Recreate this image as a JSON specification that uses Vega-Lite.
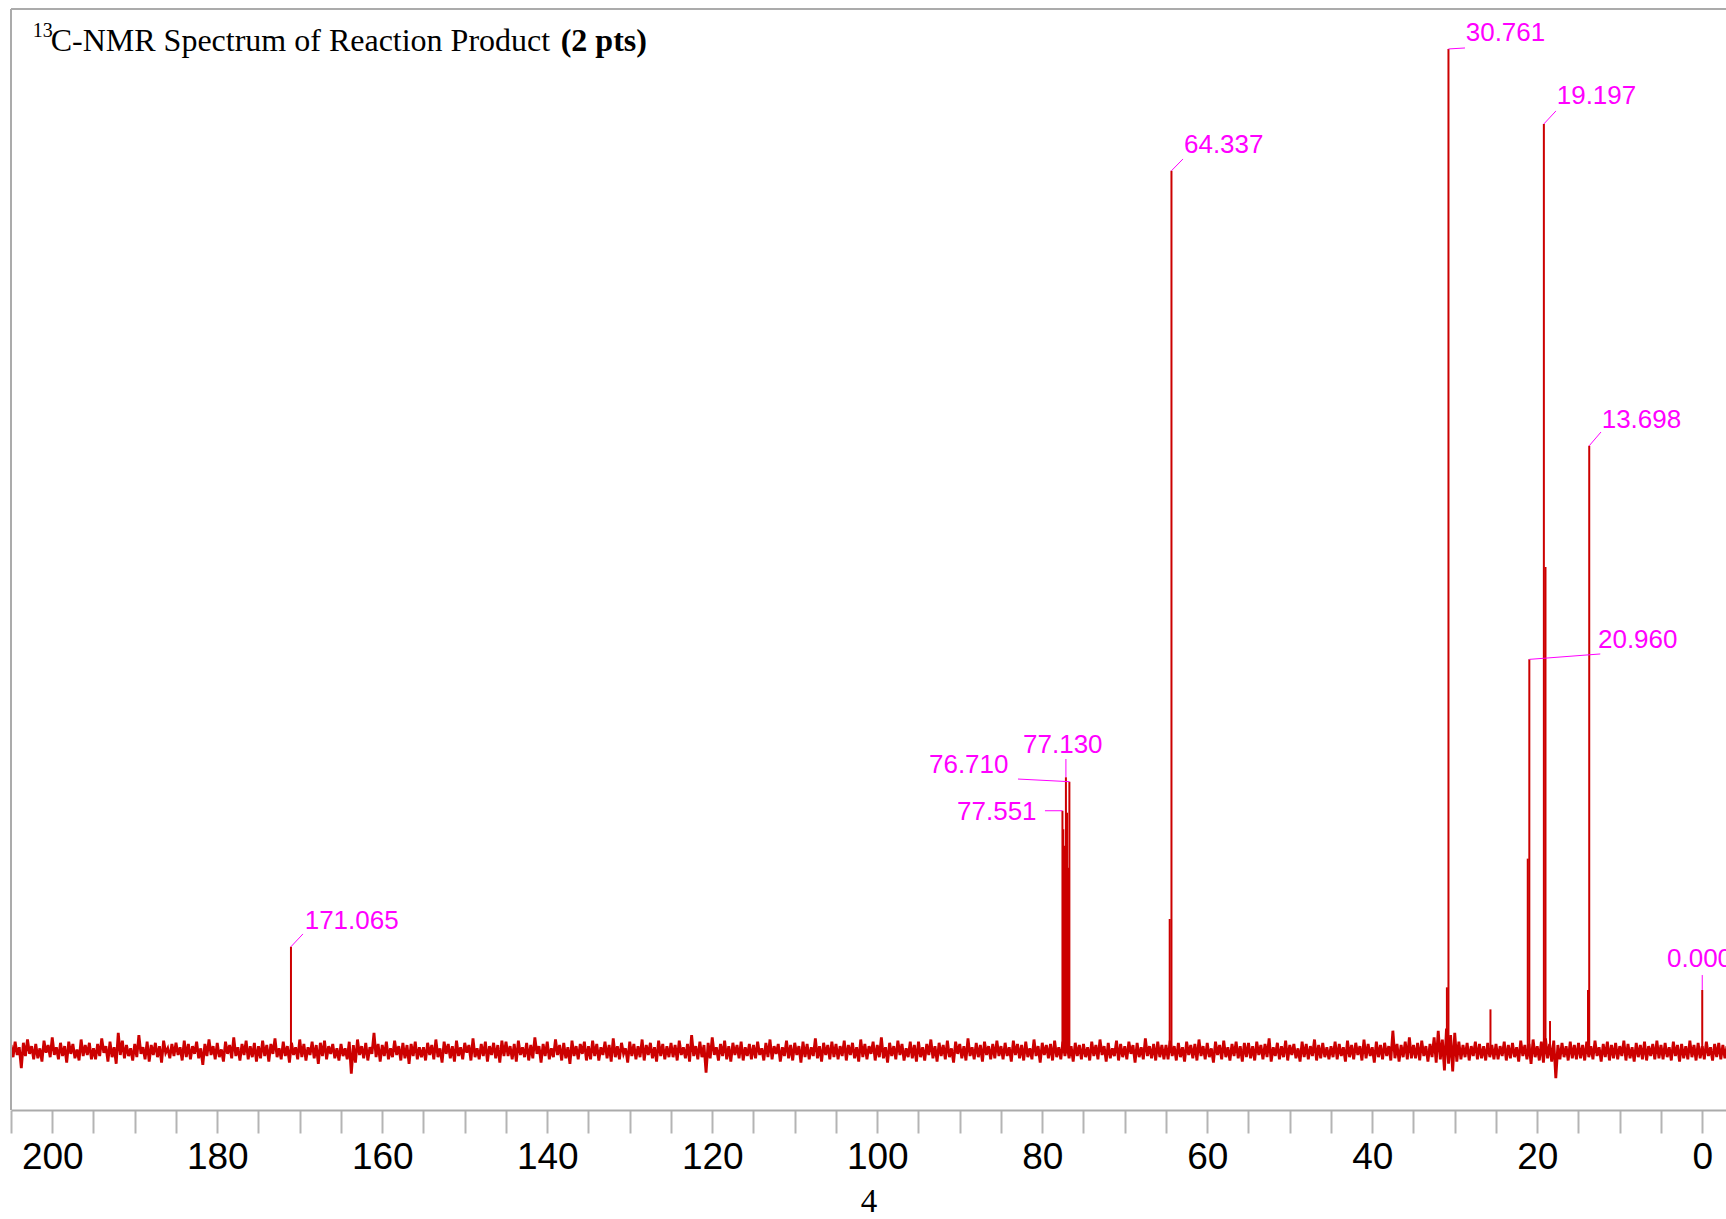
{
  "$schema": "https://vega.github.io/schema/vega-lite/v6.json",
  "width": 1715,
  "height": 1101,
  "padding": {"left": 11, "top": 9, "right": 0, "bottom": 109},
  "autosize": {"type": "none"},
  "background": "white",
  "config": {"view": {"stroke": null}},
  "datasets": {
    "noise": [
      {"x": [205,204.75,204.5,204.25,204,203.75,203.5,203.25,203,202.75,202.5,202.25,202,201.75,201.5,201.25,201,200.75,200.5,200.25,200,199.75,199.5,199.25,199,198.75,198.5,198.25,198,197.75,197.5,197.25,197,196.75,196.5,196.25,196,195.75,195.5,195.25],
       "y": [5.9,4.8,6.2,5.0,5.7,3.8,6.1,4.9,6.4,5.1,5.8,4.6,6.0,4.7,5.6,4.4,6.3,5.2,5.9,4.8,6.6,5.0,5.7,4.6,6.1,4.9,5.8,4.3,6.2,5.1,6.0,4.7,5.5,4.5,6.4,4.9,5.9,5.0,6.1,4.6]},
      {"x": [195,194.75,194.5,194.25,194,193.75,193.5,193.25,193,192.75,192.5,192.25,192,191.75,191.5,191.25,191,190.75,190.5,190.25,190,189.75,189.5,189.25,189,188.75,188.5,188.25,188,187.75,187.5,187.25,187,186.75,186.5,186.25,186,185.75,185.5,185.25],
       "y": [5.6,4.6,6.0,4.9,6.5,5.2,5.8,4.4,6.2,4.8,5.7,4.2,7.0,5.0,6.3,4.7,5.9,4.9,5.6,4.5,6.0,4.8,6.8,5.1,5.7,4.6,6.2,4.4,5.9,5.0,6.1,4.8,5.8,4.3,6.3,5.2,5.6,4.7,6.0,4.9]},
      {"x": [185,184.75,184.5,184.25,184,183.75,183.5,183.25,183,182.75,182.5,182.25,182,181.75,181.5,181.25,181,180.75,180.5,180.25,180,179.75,179.5,179.25,179,178.75,178.5,178.25,178,177.75,177.5,177.25,177,176.75,176.5,176.25,176,175.75,175.5,175.25],
       "y": [6.1,5.0,5.7,4.5,6.3,4.8,6.0,4.6,5.8,5.1,6.2,4.7,5.6,4.1,6.0,4.9,6.4,5.0,5.8,4.6,6.1,4.8,5.5,4.4,6.2,5.1,5.9,4.7,6.6,4.9,5.7,4.5,6.0,5.0,6.3,4.6,5.8,4.8,6.1,4.4]},
      {"x": [175,174.75,174.5,174.25,174,173.75,173.5,173.25,173,172.75,172.5,172.25,172,171.75,171.5,171.25,171,170.75,170.5,170.25,170,169.75,169.5,169.25,169,168.75,168.5,168.25,168,167.75,167.5,167.25,167,166.75,166.5,166.25,166,165.75,165.5,165.25],
       "y": [5.8,4.7,6.3,4.9,5.9,4.4,6.0,5.1,6.5,4.8,5.6,4.6,6.2,4.9,5.8,4.3,6.1,5.0,5.7,4.6,6.4,4.8,6.0,4.5,5.7,5.0,6.2,4.7,5.9,4.2,6.1,4.9,6.3,4.6,5.8,5.1,6.0,4.7,5.6,4.5]},
      {"x": [165,164.75,164.5,164.25,164,163.75,163.5,163.25,163,162.75,162.5,162.25,162,161.75,161.5,161.25,161,160.75,160.5,160.25,160,159.75,159.5,159.25,159,158.75,158.5,158.25,158,157.75,157.5,157.25,157,156.75,156.5,156.25,156,155.75,155.5,155.25],
       "y": [6.0,4.9,5.6,4.6,6.2,3.3,5.9,4.3,6.4,5.0,5.8,4.7,6.1,4.5,5.7,5.1,7.0,4.8,6.0,4.4,5.9,4.9,6.2,4.6,5.6,4.8,6.3,5.0,5.8,4.5,6.1,4.7,5.9,4.2,6.0,4.9,6.2,4.6,5.7,4.8]},
      {"x": [155,154.75,154.5,154.25,154,153.75,153.5,153.25,153,152.75,152.5,152.25,152,151.75,151.5,151.25,151,150.75,150.5,150.25,150,149.75,149.5,149.25,149,148.75,148.5,148.25,148,147.75,147.5,147.25,147,146.75,146.5,146.25,146,145.75,145.5,145.25],
       "y": [5.7,4.5,6.1,5.0,5.9,4.6,6.4,4.8,5.6,4.3,6.2,5.1,6.0,4.7,5.8,4.4,6.3,4.9,5.7,4.6,6.1,5.2,5.9,4.5,6.5,4.8,5.6,4.6,6.0,4.9,6.2,4.4,5.8,5.0,6.1,4.7,5.9,4.3,6.3,4.9]},
      {"x": [145,144.75,144.5,144.25,144,143.75,143.5,143.25,143,142.75,142.5,142.25,142,141.75,141.5,141.25,141,140.75,140.5,140.25,140,139.75,139.5,139.25,139,138.75,138.5,138.25,138,137.75,137.5,137.25,137,136.75,136.5,136.25,136,135.75,135.5,135.25],
       "y": [6.2,4.9,5.8,4.6,6.0,4.4,6.3,5.0,5.7,4.8,6.1,4.5,5.9,4.7,6.6,5.1,5.8,4.3,6.0,4.9,6.2,4.6,5.6,4.8,6.4,5.0,5.9,4.5,6.1,4.7,5.7,4.2,6.3,4.9,5.8,4.6,6.0,5.1,6.2,4.5]},
      {"x": [135,134.75,134.5,134.25,134,133.75,133.5,133.25,133,132.75,132.5,132.25,132,131.75,131.5,131.25,131,130.75,130.5,130.25,130,129.75,129.5,129.25,129,128.75,128.5,128.25,128,127.75,127.5,127.25,127,126.75,126.5,126.25,126,125.75,125.5,125.25],
       "y": [5.8,4.6,6.3,4.9,6.0,4.5,5.7,5.0,6.2,4.7,5.9,4.4,6.5,4.8,5.8,4.6,6.1,5.1,5.6,4.3,6.2,4.9,6.0,4.6,5.8,4.8,6.4,4.5,5.9,5.0,6.1,4.7,5.7,4.4,6.3,4.9,6.0,4.6,5.8,4.8]},
      {"x": [125,124.75,124.5,124.25,124,123.75,123.5,123.25,123,122.75,122.5,122.25,122,121.75,121.5,121.25,121,120.75,120.5,120.25,120,119.75,119.5,119.25,119,118.75,118.5,118.25,118,117.75,117.5,117.25,117,116.75,116.5,116.25,116,115.75,115.5,115.25],
       "y": [6.1,4.8,5.9,4.5,6.3,5.0,5.7,4.7,6.0,4.4,6.8,4.9,5.8,4.6,6.2,4.8,5.9,3.4,6.1,4.7,6.6,5.0,5.7,4.5,6.0,4.9,6.3,4.6,5.8,4.4,6.1,5.0,5.9,4.7,6.2,4.5,5.7,4.9,6.0,4.6]},
      {"x": [115,114.75,114.5,114.25,114,113.75,113.5,113.25,113,112.75,112.5,112.25,112,111.75,111.5,111.25,111,110.75,110.5,110.25,110,109.75,109.5,109.25,109,108.75,108.5,108.25,108,107.75,107.5,107.25,107,106.75,106.5,106.25,106,105.75,105.5,105.25],
       "y": [5.9,4.7,6.2,5.0,5.6,4.5,6.1,4.8,6.4,4.6,5.8,5.1,6.0,4.4,5.7,4.9,6.3,4.7,5.9,4.5,6.1,5.0,5.8,4.3,6.2,4.8,6.0,4.6,5.7,4.9,6.5,4.7,5.8,4.4,6.1,5.0,5.9,4.6,6.2,4.8]},
      {"x": [105,104.75,104.5,104.25,104,103.75,103.5,103.25,103,102.75,102.5,102.25,102,101.75,101.5,101.25,101,100.75,100.5,100.25,100,99.75,99.5,99.25,99,98.75,98.5,98.25,98,97.75,97.5,97.25,97,96.75,96.5,96.25,96,95.75,95.5,95.25],
       "y": [6.0,4.6,5.8,4.9,6.3,4.5,5.9,5.0,6.1,4.7,5.7,4.4,6.4,4.8,6.0,4.6,5.8,5.1,6.2,4.5,5.9,4.8,6.6,4.7,5.7,4.3,6.1,4.9,5.8,4.6,6.3,5.0,6.0,4.5,5.6,4.8,6.2,4.7,5.9,4.4]},
      {"x": [95,94.75,94.5,94.25,94,93.75,93.5,93.25,93,92.75,92.5,92.25,92,91.75,91.5,91.25,91,90.75,90.5,90.25,90,89.75,89.5,89.25,89,88.75,88.5,88.25,88,87.75,87.5,87.25,87,86.75,86.5,86.25,86,85.75,85.5,85.25],
       "y": [6.2,4.8,5.7,4.5,6.0,5.0,6.4,4.7,5.8,4.4,6.1,4.9,5.9,4.6,6.3,4.8,5.6,4.3,6.2,5.1,6.0,4.7,5.8,4.5,6.5,4.9,5.7,4.6,6.1,4.8,5.9,4.4,6.2,5.0,5.8,4.6,6.0,4.7,6.3,4.9]},
      {"x": [85,84.75,84.5,84.25,84,83.75,83.5,83.25,83,82.75,82.5,82.25,82,81.75,81.5,81.25,81,80.75,80.5,80.25,80,79.75,79.5,79.25,79,78.75,78.5,78.25,78,77.75,77.5,77.25,77,76.75,76.5,76.25,76,75.75,75.5,75.25],
       "y": [5.8,4.6,6.1,4.9,5.7,4.4,6.3,5.0,6.0,4.7,5.9,4.5,6.2,4.8,5.6,4.6,6.4,4.9,5.8,4.3,6.1,5.0,5.9,4.7,6.0,4.5,6.3,4.8,5.7,4.6,6.2,4.9,6.0,4.7,5.8,4.4,6.1,4.9,5.9,4.6]},
      {"x": [75,74.75,74.5,74.25,74,73.75,73.5,73.25,73,72.75,72.5,72.25,72,71.75,71.5,71.25,71,70.75,70.5,70.25,70,69.75,69.5,69.25,69,68.75,68.5,68.25,68,67.75,67.5,67.25,67,66.75,66.5,66.25,66,65.75,65.5,65.25],
       "y": [6.0,4.8,5.7,4.5,6.2,4.9,5.9,4.6,6.4,5.0,5.8,4.4,6.1,4.7,5.6,4.9,6.3,4.5,6.0,4.8,5.8,4.6,6.2,5.1,5.9,4.3,6.1,4.8,5.7,4.6,6.5,4.9,5.8,4.7,6.0,4.5,6.2,4.8,5.9,4.6]},
      {"x": [65,64.75,64.5,64.25,64,63.75,63.5,63.25,63,62.75,62.5,62.25,62,61.75,61.5,61.25,61,60.75,60.5,60.25,60,59.75,59.5,59.25,59,58.75,58.5,58.25,58,57.75,57.5,57.25,57,56.75,56.5,56.25,56,55.75,55.5,55.25],
       "y": [5.9,4.6,6.3,4.9,5.8,4.5,6.1,4.8,5.7,4.4,6.2,5.0,5.9,4.7,6.0,4.5,6.4,4.9,5.8,4.6,6.1,4.8,5.6,4.3,6.2,5.0,5.9,4.6,6.3,4.8,5.7,4.5,6.0,4.9,6.2,4.7,5.8,4.4,6.1,4.8]},
      {"x": [55,54.75,54.5,54.25,54,53.75,53.5,53.25,53,52.75,52.5,52.25,52,51.75,51.5,51.25,51,50.75,50.5,50.25,50,49.75,49.5,49.25,49,48.75,48.5,48.25,48,47.75,47.5,47.25,47,46.75,46.5,46.25,46,45.75,45.5,45.25],
       "y": [6.1,4.7,5.8,4.5,6.2,5.0,5.9,4.6,6.0,4.8,6.5,4.4,5.7,4.9,6.1,4.6,5.8,4.8,6.3,4.5,5.9,5.0,6.0,4.7,5.6,4.4,6.2,4.8,6.0,4.6,5.8,4.9,6.4,4.5,5.9,4.7,6.1,4.8,5.7,4.6]},
      {"x": [45,44.75,44.5,44.25,44,43.75,43.5,43.25,43,42.75,42.5,42.25,42,41.75,41.5,41.25,41,40.75,40.5,40.25,40,39.75,39.5,39.25,39,38.75,38.5,38.25,38,37.75,37.5,37.25,37,36.75,36.5,36.25,36,35.75,35.5,35.25],
       "y": [5.8,4.8,6.2,4.6,6.0,4.9,5.7,4.4,6.3,4.8,5.9,4.6,6.1,5.0,5.8,4.5,6.4,4.7,6.0,4.9,5.7,4.3,6.2,4.8,5.9,4.6,6.1,4.9,5.8,4.5,7.2,4.7,6.0,4.4,5.9,4.8,6.2,4.6,6.6,4.7]},
      {"x": [35,34.75,34.5,34.25,34,33.75,33.5,33.25,33,32.75,32.5,32.25,32,31.75,31.5,31.25,31,30.75,30.5,30.25,30,29.75,29.5,29.25,29,28.75,28.5,28.25,28,27.75,27.5,27.25,27,26.75,26.5,26.25,26,25.75,25.5,25.25],
       "y": [5.9,4.7,6.1,4.5,6.3,4.9,5.8,4.4,6.0,4.8,6.6,4.3,7.2,4.6,6.4,3.6,7.4,4.2,6.8,3.5,7.0,4.4,6.2,4.6,5.9,4.8,6.1,4.5,5.8,4.9,6.2,4.6,6.0,4.7,5.8,4.5,6.1,4.8,5.9,4.6]},
      {"x": [25,24.75,24.5,24.25,24,23.75,23.5,23.25,23,22.75,22.5,22.25,22,21.75,21.5,21.25,21,20.75,20.5,20.25,20,19.75,19.5,19.25,19,18.75,18.5,18.25,18,17.75,17.5,17.25,17,16.75,16.5,16.25,16,15.75,15.5,15.25],
       "y": [6.0,4.6,5.8,4.9,6.2,4.5,5.9,4.7,6.1,4.8,5.7,4.4,6.3,4.9,5.9,4.6,6.0,4.2,6.4,4.8,5.8,4.5,6.2,4.3,6.5,4.7,6.0,4.4,6.3,2.9,5.9,4.6,6.1,4.8,5.8,4.5,6.2,4.7,5.9,4.6]},
      {"x": [15,14.75,14.5,14.25,14,13.75,13.5,13.25,13,12.75,12.5,12.25,12,11.75,11.5,11.25,11,10.75,10.5,10.25,10,9.75,9.5,9.25,9,8.75,8.5,8.25,8,7.75,7.5,7.25,7,6.75,6.5,6.25,6,5.75,5.5,5.25],
       "y": [6.1,4.7,5.9,4.5,6.2,4.8,5.8,4.6,6.3,4.9,5.7,4.4,6.0,4.8,6.2,4.5,5.9,4.7,6.1,4.6,5.8,4.9,6.3,4.5,6.0,4.7,5.7,4.4,6.1,4.8,5.9,4.6,6.2,4.5,5.8,4.9,6.0,4.6,6.3,4.7]},
      {"x": [5,4.75,4.5,4.25,4,3.75,3.5,3.25,3,2.75,2.5,2.25,2,1.75,1.5,1.25,1,0.75,0.5,0.25,0,-0.25,-0.5,-0.75,-1,-1.25,-1.5,-1.75,-2,-2.25,-2.5,-2.75,-3],
       "y": [5.9,4.6,6.1,4.8,5.7,4.5,6.2,4.9,5.9,4.4,6.0,4.7,5.8,4.6,6.3,4.8,5.9,4.5,6.1,4.7,5.8,4.6,6.2,4.9,5.7,4.5,6.0,4.8,6.1,4.6,5.9,4.7,5.8]}
    ],
    "peaks": [
      {"ppm": 171.065, "h": 14.83},
      {"ppm": 77.551, "h": 27.18},
      {"ppm": 77.45, "h": 25.5},
      {"ppm": 77.3, "h": 24.0},
      {"ppm": 77.130, "h": 30.22},
      {"ppm": 77.0, "h": 27.0},
      {"ppm": 76.85, "h": 22.0},
      {"ppm": 76.710, "h": 29.82},
      {"ppm": 64.55, "h": 17.35},
      {"ppm": 64.337, "h": 85.31},
      {"ppm": 30.95, "h": 11.14},
      {"ppm": 30.761, "h": 96.37},
      {"ppm": 25.67, "h": 9.14},
      {"ppm": 21.15, "h": 22.83},
      {"ppm": 20.960, "h": 40.93},
      {"ppm": 19.197, "h": 89.56},
      {"ppm": 19.0, "h": 49.32},
      {"ppm": 18.45, "h": 8.08},
      {"ppm": 13.85, "h": 10.9},
      {"ppm": 13.698, "h": 60.33},
      {"ppm": 0.0, "h": 10.9}
    ],
    "leaders": [
      {"x1": 171.065, "y1": 14.83, "x2": 169.61, "y2": 15.99},
      {"x1": 64.337, "y1": 85.31, "x2": 62.94, "y2": 86.38},
      {"x1": 30.761, "y1": 96.37, "x2": 28.76, "y2": 96.46},
      {"x1": 19.197, "y1": 89.56, "x2": 17.73, "y2": 90.74},
      {"x1": 13.698, "y1": 60.33, "x2": 12.27, "y2": 61.58},
      {"x1": 20.960, "y1": 40.93, "x2": 12.36, "y2": 41.42},
      {"x1": 0.0, "y1": 10.9, "x2": 0.0, "y2": 12.26},
      {"x1": 77.130, "y1": 30.22, "x2": 77.130, "y2": 31.88},
      {"x1": 76.710, "y1": 29.82, "x2": 82.94, "y2": 30.06},
      {"x1": 77.551, "y1": 27.18, "x2": 79.67, "y2": 27.18}
    ],
    "labels": [
      {"lx": 169.4, "ly": 16.47, "label": "171.065"},
      {"lx": 62.82, "ly": 86.95, "label": "64.337"},
      {"lx": 28.67, "ly": 97.12, "label": "30.761"},
      {"lx": 17.64, "ly": 91.37, "label": "19.197"},
      {"lx": 12.19, "ly": 61.94, "label": "13.698"},
      {"lx": 12.64, "ly": 41.96, "label": "20.960"},
      {"lx": 4.27, "ly": 12.99, "label": "0.000"},
      {"lx": 82.33, "ly": 32.43, "label": "77.130"},
      {"lx": 93.73, "ly": 30.61, "label": "76.710"},
      {"lx": 90.33, "ly": 26.34, "label": "77.551"}
    ]
  },
  "layer": [
    {
      "data": {"name": "noise"},
      "transform": [{"flatten": ["x", "y"]}],
      "mark": {"type": "line", "color": "#CC0000", "strokeWidth": 2.8, "clip": true},
      "encoding": {
        "x": {
          "field": "x", "type": "quantitative",
          "scale": {"domain": [-2.88, 205], "reverse": true, "nice": false, "zero": false},
          "axis": {
            "values": [0,5,10,15,20,25,30,35,40,45,50,55,60,65,70,75,80,85,90,95,100,105,110,115,120,125,130,135,140,145,150,155,160,165,170,175,180,185,190,195,200,205],
            "labelExpr": "datum.value % 20 === 0 ? datum.label : ''",
            "tickSize": 23,
            "tickColor": "#B4B4B4", "tickWidth": 2,
            "domainColor": "#ABABAB", "domainWidth": 2,
            "labelFont": "Liberation Sans", "labelFontSize": 37, "labelColor": "#000000",
            "labelPadding": 6, "labelOverlap": false, "labelFlush": false,
            "grid": false,
            "title": "4", "titleFont": "Liberation Serif", "titleFontSize": 33,
            "titleFontWeight": "normal", "titleColor": "#000000", "titlePadding": 10,
            "encode": {"ticks": {"update": {"y2": {"signal": "datum.value % 20 === 0 ? 27 : 23"}}}}
          }
        },
        "y": {"field": "y", "type": "quantitative", "scale": {"domain": [0, 100], "nice": false, "zero": false}, "axis": null}
      }
    },
    {
      "data": {"values": [{"top": 100}]},
      "mark": {"type": "rule", "color": "#ABABAB", "strokeWidth": 2},
      "encoding": {
        "y": {"field": "top", "type": "quantitative", "scale": {"domain": [0, 100], "nice": false, "zero": false}, "axis": null}
      }
    },
    {
      "data": {"values": [{"left": 205}]},
      "mark": {"type": "rule", "color": "#ABABAB", "strokeWidth": 2},
      "encoding": {
        "x": {"field": "left", "type": "quantitative", "scale": {"domain": [-2.88, 205], "reverse": true, "nice": false, "zero": false}}
      }
    },
    {
      "data": {"name": "peaks"},
      "mark": {"type": "rule", "color": "#CC0000", "strokeWidth": 2},
      "encoding": {
        "x": {"field": "ppm", "type": "quantitative", "scale": {"domain": [-2.88, 205], "reverse": true, "nice": false, "zero": false}},
        "y": {"field": "h", "type": "quantitative", "scale": {"domain": [0, 100], "nice": false, "zero": false}, "axis": null},
        "y2": {"datum": 5.4}
      }
    },
    {
      "data": {"name": "leaders"},
      "mark": {"type": "rule", "color": "#FF00FF", "strokeWidth": 1},
      "encoding": {
        "x": {"field": "x1", "type": "quantitative", "scale": {"domain": [-2.88, 205], "reverse": true, "nice": false, "zero": false}},
        "y": {"field": "y1", "type": "quantitative", "scale": {"domain": [0, 100], "nice": false, "zero": false}, "axis": null},
        "x2": {"field": "x2"},
        "y2": {"field": "y2"}
      }
    },
    {
      "data": {"name": "labels"},
      "mark": {"type": "text", "align": "left", "baseline": "alphabetic", "font": "Liberation Sans", "fontSize": 26, "color": "#FF00FF"},
      "encoding": {
        "x": {"field": "lx", "type": "quantitative", "scale": {"domain": [-2.88, 205], "reverse": true, "nice": false, "zero": false}},
        "y": {"field": "ly", "type": "quantitative", "scale": {"domain": [0, 100], "nice": false, "zero": false}, "axis": null},
        "text": {"field": "label"}
      }
    },
    {
      "data": {"values": [{"tx": 202.37, "ty": 97.5, "t": "13"}]},
      "mark": {"type": "text", "align": "left", "baseline": "alphabetic", "font": "Liberation Serif", "fontSize": 20, "color": "#000000"},
      "encoding": {
        "x": {"field": "tx", "type": "quantitative", "scale": {"domain": [-2.88, 205], "reverse": true, "nice": false, "zero": false}},
        "y": {"field": "ty", "type": "quantitative", "scale": {"domain": [0, 100], "nice": false, "zero": false}, "axis": null},
        "text": {"field": "t"}
      }
    },
    {
      "data": {"values": [{"tx": 200.19, "ty": 96.2, "t": "C-NMR Spectrum of Reaction Product"}]},
      "mark": {"type": "text", "align": "left", "baseline": "alphabetic", "font": "Liberation Serif", "fontSize": 32, "color": "#000000"},
      "encoding": {
        "x": {"field": "tx", "type": "quantitative", "scale": {"domain": [-2.88, 205], "reverse": true, "nice": false, "zero": false}},
        "y": {"field": "ty", "type": "quantitative", "scale": {"domain": [0, 100], "nice": false, "zero": false}, "axis": null},
        "text": {"field": "t"}
      }
    },
    {
      "data": {"values": [{"tx": 138.37, "ty": 96.2, "t": "(2 pts)"}]},
      "mark": {"type": "text", "align": "left", "baseline": "alphabetic", "font": "Liberation Serif", "fontSize": 32, "fontWeight": "bold", "color": "#000000"},
      "encoding": {
        "x": {"field": "tx", "type": "quantitative", "scale": {"domain": [-2.88, 205], "reverse": true, "nice": false, "zero": false}},
        "y": {"field": "ty", "type": "quantitative", "scale": {"domain": [0, 100], "nice": false, "zero": false}, "axis": null},
        "text": {"field": "t"}
      }
    }
  ]
}
